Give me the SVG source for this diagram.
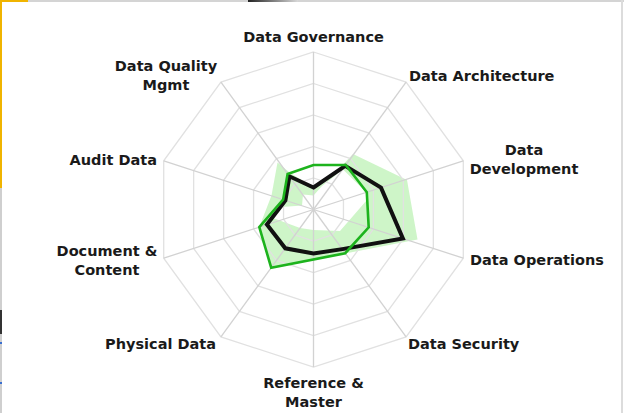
<svg xmlns="http://www.w3.org/2000/svg" width="624" height="413" viewBox="0 0 624 413">
  <style>
    .ring { fill: none; stroke: #e1e1e1; stroke-width: 1.3; }
    .spoke { stroke: #d2d2d2; stroke-width: 1.3; }
    .lbl { font-family: "DejaVu Sans", "Liberation Sans", sans-serif; font-weight: bold; font-size: 14.5px; fill: #1a1a1a; }
    .mid { text-anchor: middle; }
    .end { text-anchor: end; }
    .band { fill: #b4f0ab; fill-opacity: 0.65; fill-rule: evenodd; stroke: none; }
    .current { fill: none; stroke: #111111; stroke-width: 4; stroke-linejoin: miter; }
    .target { fill: none; stroke: #1db31d; stroke-width: 2.6; stroke-linejoin: miter; }
  </style>
  <defs>
    <linearGradient id="topdark" x1="0" y1="0" x2="1" y2="0">
      <stop offset="0" stop-color="#222"/>
      <stop offset="1" stop-color="#d8d8d8"/>
    </linearGradient>
  </defs>

  <!-- background and screenshot frame -->
  <rect x="0" y="0" width="624" height="413" fill="#ffffff"/>
  <rect x="0" y="0" width="624" height="2" fill="#d4d4d4"/>
  <rect x="248" y="0" width="50" height="2" fill="url(#topdark)"/>
  <rect x="0" y="0" width="28" height="2" fill="#f0b400"/>
  <rect x="0" y="0" width="2" height="188" fill="#f0b400"/>
  <rect x="0" y="188" width="2" height="225" fill="#cfcfcf"/>
  <rect x="0" y="310" width="2" height="24" fill="#333333"/>
  <rect x="0" y="342" width="2" height="2" fill="#3a6fd0"/>
  <rect x="0" y="382" width="2" height="2" fill="#3a6fd0"/>
  <rect x="621" y="0" width="2" height="413" fill="#dcdcdc"/>

  <g id="chart" transform="translate(313.5,209.5)">
    <!-- range band -->
    <g id="range-band">
      <path class="band" d="M0,-22 L24.5,-39.5 L39.5,-55.5 L93.5,-29.5 L104,30 L31.7,44 L-42.3,58 L-54.2,17.6 L-42,-14 L-36,-47 L-24,-37 Z
                            M0,-14 L8.5,-23.5 L29.5,-40 L53,-17 L53,-9 L26.5,21.5 L0,20.5 L-13.5,18.5 L-40.5,8.5 L-38,-2 L-11.5,-4 L-10.5,-15 Z"/>
    </g>

    <!-- grid -->
    <g id="grid">
      <polygon class="ring" points="0,-157.5 92.58,-127.42 149.79,-48.67 149.79,48.67 92.58,127.42 0,157.5 -92.58,127.42 -149.79,48.67 -149.79,-48.67 -92.58,-127.42"/>
      <polygon class="ring" points="0,-126 74.06,-101.93 119.83,-38.94 119.83,38.94 74.06,101.93 0,126 -74.06,101.93 -119.83,38.94 -119.83,-38.94 -74.06,-101.93"/>
      <polygon class="ring" points="0,-94.5 55.55,-76.45 89.88,-29.2 89.88,29.2 55.55,76.45 0,94.5 -55.55,76.45 -89.88,29.2 -89.88,-29.2 -55.55,-76.45"/>
      <polygon class="ring" points="0,-63 37.03,-50.97 59.92,-19.47 59.92,19.47 37.03,50.97 0,63 -37.03,50.97 -59.92,19.47 -59.92,-19.47 -37.03,-50.97"/>
      <polygon class="ring" points="0,-31.5 18.52,-25.48 29.96,-9.73 29.96,9.73 18.52,25.48 0,31.5 -18.52,25.48 -29.96,9.73 -29.96,-9.73 -18.52,-25.48"/>
      <line class="spoke" x1="0" y1="0" x2="0" y2="-157.5"/>
      <line class="spoke" x1="0" y1="0" x2="92.58" y2="-127.42"/>
      <line class="spoke" x1="0" y1="0" x2="149.79" y2="-48.67"/>
      <line class="spoke" x1="0" y1="0" x2="149.79" y2="48.67"/>
      <line class="spoke" x1="0" y1="0" x2="92.58" y2="127.42"/>
      <line class="spoke" x1="0" y1="0" x2="0" y2="157.5"/>
      <line class="spoke" x1="0" y1="0" x2="-92.58" y2="127.42"/>
      <line class="spoke" x1="0" y1="0" x2="-149.79" y2="48.67"/>
      <line class="spoke" x1="0" y1="0" x2="-149.79" y2="-48.67"/>
      <line class="spoke" x1="0" y1="0" x2="-92.58" y2="-127.42"/>
    </g>

    <!-- data series -->
    <g id="series">
      <polygon class="current" points="0,-22 31.7,-43.7 67.5,-21.9 89.4,29 28.8,39.6 0,44 -28.2,38.8 -46.6,15.1 -28.1,-9.1 -24.1,-33.2"/>
      <polygon class="target" points="0,-44.5 32.3,-44.5 53.3,-17.3 55.2,17.9 31.7,43.7 -42.3,58.2 -54.2,17.6 -30.4,-9.9 -25.9,-35.6"/>
    </g>
  </g>

  <!-- axis labels -->
  <g id="label-data-governance"><text class="lbl mid" x="313.5" y="42">Data Governance</text></g>
  <g id="label-data-architecture"><text class="lbl" x="409" y="81">Data Architecture</text></g>
  <g id="label-data-development">
    <text class="lbl mid" x="524" y="155">Data</text>
    <text class="lbl mid" x="524" y="174">Development</text>
  </g>
  <g id="label-data-operations"><text class="lbl" x="470" y="265">Data Operations</text></g>
  <g id="label-data-security"><text class="lbl" x="408" y="349">Data Security</text></g>
  <g id="label-reference-master">
    <text class="lbl mid" x="313.5" y="388">Reference &amp;</text>
    <text class="lbl mid" x="313.5" y="407">Master</text>
  </g>
  <g id="label-physical-data"><text class="lbl end" x="216" y="349">Physical Data</text></g>
  <g id="label-document-content">
    <text class="lbl mid" x="107" y="256">Document &amp;</text>
    <text class="lbl mid" x="107" y="275">Content</text>
  </g>
  <g id="label-audit-data"><text class="lbl end" x="157" y="165">Audit Data</text></g>
  <g id="label-data-quality">
    <text class="lbl mid" x="166" y="71">Data Quality</text>
    <text class="lbl mid" x="166" y="90">Mgmt</text>
  </g>
</svg>
